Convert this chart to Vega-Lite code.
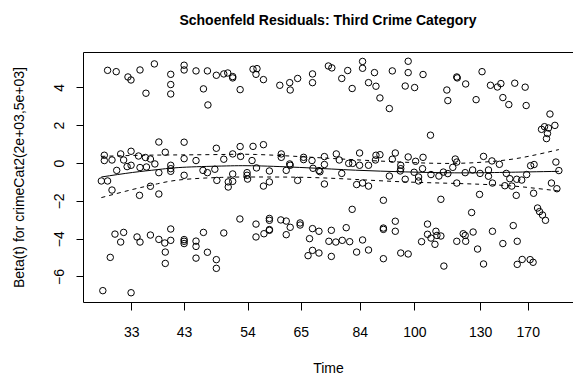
{
  "$schema": "https://vega.github.io/schema/vega-lite/v6.json",
  "width": 490,
  "height": 250,
  "autosize": {"type": "none"},
  "padding": {"left": 83, "top": 52, "right": 0, "bottom": 77},
  "background": "white",
  "config": {
    "view": {"stroke": "#000", "strokeWidth": 1},
    "font": "Liberation Sans",
    "axis": {"labelFont": "Liberation Sans", "titleFont": "Liberation Sans", "labelColor": "#000", "titleColor": "#000", "tickColor": "#000", "labelFontSize": 14, "titleFontSize": 14, "titleFontWeight": "normal", "grid": false, "domain": false}
  },
  "title": {"text": "Schoenfeld Residuals: Third Crime Category", "font": "Liberation Sans", "fontSize": 14, "fontWeight": "bold", "color": "#000", "anchor": "middle", "baseline": "alphabetic", "offset": 13},
  "datasets": {
    "resid": [
      {"u":4.96,"r":4.90},{"u":6.7,"r":4.83},{"u":9.07,"r":4.55},{"u":9.68,"r":4.39},{"u":11.5,"r":4.92},{"u":14.4,"r":5.24},{"u":12.7,"r":3.69},{"u":17.7,"r":4.69},{"u":17.7,"r":4.15},{"u":17.7,"r":3.65},{"u":20.4,"r":5.17},{"u":20.4,"r":4.92},{"u":22.8,"r":4.87},{"u":24.3,"r":3.92},{"u":25.1,"r":4.87},{"u":25.2,"r":3.07},{"u":26.9,"r":4.64},{"u":28.4,"r":4.71},{"u":29.2,"r":4.76},{"u":30.2,"r":4.57},{"u":30.2,"r":4.50},{"u":31.7,"r":3.88},{"u":34.3,"r":4.96},{"u":35.1,"r":4.99},{"u":34.9,"r":4.69},{"u":36.4,"r":4.41},{"u":39.7,"r":4.11},{"u":41.7,"r":4.25},{"u":41.8,"r":3.86},{"u":43.3,"r":4.47},{"u":46.3,"r":4.71},{"u":46.3,"r":4.25},
      {"u":49.5,"r":5.13},{"u":50.2,"r":5.03},{"u":52.2,"r":4.47},{"u":53.4,"r":4.89},{"u":54.3,"r":3.94},{"u":56.4,"r":5.37},{"u":56.4,"r":5.01},{"u":57.6,"r":4.25},{"u":58.8,"r":4.78},{"u":59.1,"r":4.06},{"u":59.9,"r":3.44},{"u":61.8,"r":2.88},{"u":62.4,"r":4.87},{"u":65.6,"r":5.38},{"u":65.6,"r":4.78},{"u":65.0,"r":4.07},{"u":66.9,"r":3.99},{"u":68.6,"r":4.68},{"u":70.1,"r":1.47},{"u":73.4,"r":3.86},{"u":73.6,"r":3.30},{"u":75.4,"r":4.55},{"u":75.5,"r":4.50},{"u":77.2,"r":4.18},{"u":79.3,"r":3.35},{"u":80.5,"r":4.83},{"u":82.2,"r":4.11},{"u":83.6,"r":4.02},{"u":84.3,"r":4.20},{"u":84.7,"r":3.46},{"u":85.9,"r":3.09},{"u":87.1,"r":4.22},{"u":89.2,"r":4.01},{"u":89.4,"r":3.04},{"u":94.2,"r":2.59},{"u":92.5,"r":1.78},{"u":93.1,"r":1.92},{"u":93.9,"r":1.85},{"u":95.2,"r":1.99},{"u":93.7,"r":1.56},{"u":93.5,"r":1.29},
      {"u":15.3,"r":1.11},{"u":20.4,"r":1.10},{"u":4.3,"r":0.41},{"u":4.3,"r":0.13},{"u":5.85,"r":0.16},{"u":7.6,"r":0.48},{"u":8.2,"r":0.16},{"u":9.7,"r":0.62},{"u":11.2,"r":0.37},{"u":12.6,"r":0.29},{"u":13.6,"r":0.21},{"u":14.5,"r":-0.05},{"u":16.6,"r":0.57},{"u":6.8,"r":-0.39},{"u":8.9,"r":-0.19},{"u":9.7,"r":-0.12},{"u":11.5,"r":-0.24},{"u":12.8,"r":-0.21},{"u":15.3,"r":-0.51},{"u":17.7,"r":-0.12},{"u":17.7,"r":-0.30},{"u":17.7,"r":-0.44},{"u":20.4,"r":0.23},{"u":20.4,"r":-0.65},{"u":22.8,"r":0.13},{"u":24.2,"r":-0.39},{"u":25.1,"r":-0.51},{"u":26.6,"r":-0.33},{"u":26.9,"r":0.78},{"u":28.4,"r":0.20},{"u":30.2,"r":0.48},{"u":31.7,"r":0.87},{"u":31.8,"r":0.35},{"u":30.2,"r":-0.58},{"u":33.1,"r":-0.51},{"u":33.1,"r":-0.65},{"u":34.3,"r":0.88},{"u":36.4,"r":0.97},{"u":34.1,"r":0.13},{"u":35.0,"r":-0.26},{"u":37.6,"r":-0.42},{"u":40.0,"r":0.48},{"u":40.0,"r":0.30},{"u":41.0,"r":-0.39},{"u":41.7,"r":-0.05},{"u":41.8,"r":-0.12},{"u":44.5,"r":0.30},{"u":44.5,"r":0.18},{"u":46.2,"r":0.13},{"u":47.6,"r":-0.40},{"u":46.4,"r":-0.28},
      {"u":3.7,"r":-0.95},{"u":4.96,"r":-0.95},{"u":5.85,"r":-1.43},{"u":11.4,"r":-1.71},{"u":13.6,"r":-1.23},{"u":15.3,"r":-1.64},{"u":27.0,"r":-0.92},{"u":29.3,"r":-1.0},{"u":29.3,"r":-1.27},{"u":30.2,"r":-0.97},{"u":33.2,"r":-0.85},{"u":36.4,"r":-1.22},{"u":37.6,"r":-1.0},{"u":43.3,"r":-0.92},
      {"u":48.7,"r":0.34},{"u":48.7,"r":-0.08},{"u":47.8,"r":-0.46},{"u":51.1,"r":0.48},{"u":51.7,"r":0.16},{"u":53.6,"r":-0.02},{"u":54.4,"r":-0.02},{"u":52.2,"r":-0.55},{"u":55.8,"r":0.53},{"u":55.8,"r":-0.12},{"u":57.6,"r":-0.12},{"u":59.0,"r":0.16},{"u":59.1,"r":0.41},{"u":59.9,"r":0.44},{"u":62.4,"r":0.20},{"u":63.0,"r":0.53},{"u":64.1,"r":-0.12},{"u":64.1,"r":-0.30},{"u":64.0,"r":-0.42},{"u":61.8,"r":-0.69},{"u":65.6,"r":0.32},{"u":67.1,"r":0.09},{"u":68.6,"r":0.30},{"u":66.8,"r":-0.49},{"u":68.5,"r":-0.30},{"u":70.2,"r":-0.61},{"u":71.8,"r":-0.69},{"u":72.7,"r":-0.48},{"u":73.6,"r":-0.56},{"u":74.6,"r":-0.23},{"u":75.1,"r":0.21},{"u":75.4,"r":0.05},{"u":77.1,"r":-0.51},{"u":78.6,"r":-0.37},{"u":80.1,"r":-0.55},{"u":80.8,"r":0.35},{"u":81.8,"r":-0.37},{"u":82.5,"r":0.11},{"u":84.0,"r":-0.07},{"u":85.4,"r":-0.55},{"u":90.3,"r":-0.14},{"u":91.0,"r":-0.08},{"u":89.5,"r":-0.61},{"u":95.4,"r":0.05},{"u":96.0,"r":-0.40},{"u":87.5,"r":-0.86},{"u":86.1,"r":-0.83},
      {"u":48.7,"r":-1.11},{"u":55.2,"r":-1.14},{"u":56.4,"r":-1.06},{"u":57.6,"r":-1.22},{"u":65.0,"r":-0.86},{"u":67.7,"r":-0.74},{"u":67.7,"r":-0.95},{"u":75.4,"r":-1.06},{"u":80.0,"r":-1.66},{"u":81.8,"r":-0.70},{"u":82.6,"r":-1.06},{"u":85.1,"r":-1.20},{"u":86.5,"r":-1.22},{"u":88.5,"r":-0.90},{"u":87.4,"r":-1.71},{"u":90.9,"r":-1.60},{"u":94.5,"r":-1.06},{"u":95.6,"r":-1.36},{"u":60.6,"r":-1.97},{"u":72.2,"r":-1.92},{"u":54.3,"r":-2.45},{"u":78.4,"r":-2.62},{"u":91.7,"r":-2.38},{"u":92.1,"r":-2.57},{"u":92.7,"r":-2.75},{"u":93.3,"r":-3.03},
      {"u":31.65,"r":-2.96},{"u":34.9,"r":-3.23},{"u":37.6,"r":-2.93},{"u":37.6,"r":-3.03},{"u":37.6,"r":-3.52},{"u":37.6,"r":-3.56},{"u":39.9,"r":-3.01},{"u":41.0,"r":-3.07},{"u":41.8,"r":-3.40},{"u":43.8,"r":-3.17},{"u":43.8,"r":-3.28},{"u":46.3,"r":-3.47},{"u":47.6,"r":-3.61},{"u":34.9,"r":-3.91},{"u":36.5,"r":-3.74},{"u":41.0,"r":-3.79},{"u":45.7,"r":-4.0},{"u":46.3,"r":-4.62},{"u":45.4,"r":-4.9},{"u":47.6,"r":-4.76},{"u":6.45,"r":-3.76},{"u":8.2,"r":-3.67},{"u":7.6,"r":-4.18},{"u":5.5,"r":-4.99},{"u":10.9,"r":-3.91},{"u":11.5,"r":-4.18},{"u":13.6,"r":-3.81},{"u":15.3,"r":-4.04},{"u":16.5,"r":-4.23},{"u":17.7,"r":-3.49},{"u":17.7,"r":-4.09},{"u":16.6,"r":-4.71},{"u":16.6,"r":-5.31},{"u":20.4,"r":-4.05},{"u":20.4,"r":-4.14},{"u":20.4,"r":-4.26},{"u":22.8,"r":-4.13},{"u":22.8,"r":-4.41},{"u":22.8,"r":-5.03},{"u":24.3,"r":-3.67},{"u":25.1,"r":-4.72},{"u":26.9,"r":-5.11},{"u":26.9,"r":-5.57},{"u":28.4,"r":-3.70},{"u":4.0,"r":-6.75},{"u":9.7,"r":-6.86},
      {"u":50.1,"r":-3.56},{"u":49.6,"r":-4.14},{"u":51.0,"r":-4.18},{"u":52.3,"r":-4.09},{"u":53.1,"r":-3.42},{"u":53.8,"r":-4.16},{"u":50.1,"r":-4.94},{"u":55.2,"r":-4.71},{"u":56.4,"r":-4.07},{"u":57.6,"r":-4.60},{"u":60.6,"r":-3.44},{"u":60.6,"r":-3.51},{"u":60.6,"r":-5.06},{"u":63.0,"r":-3.08},{"u":63.0,"r":-3.61},{"u":64.1,"r":-4.76},{"u":65.6,"r":-4.81},{"u":68.3,"r":-4.16},{"u":69.5,"r":-3.23},{"u":69.5,"r":-3.77},{"u":70.2,"r":-3.97},{"u":71.2,"r":-3.61},{"u":71.4,"r":-3.83},{"u":72.2,"r":-3.86},{"u":71.0,"r":-4.30},{"u":72.8,"r":-5.45},{"u":75.4,"r":-4.14},{"u":76.7,"r":-3.74},{"u":77.1,"r":-3.83},{"u":77.2,"r":-4.14},{"u":78.7,"r":-3.65},{"u":79.6,"r":-4.55},{"u":80.8,"r":-5.34},{"u":82.6,"r":-3.61},{"u":84.7,"r":-4.26},{"u":86.8,"r":-3.31},{"u":87.6,"r":-4.14},{"u":87.6,"r":-5.36},{"u":88.6,"r":-5.10},{"u":90.2,"r":-5.11},{"u":90.8,"r":-5.25}
    ],
    "smooth": [
      {"u":3.7,"fit":-0.74,"lo":-1.83,"hi":0.35},
      {"u":10,"fit":-0.5,"lo":-1.4,"hi":0.4},
      {"u":15,"fit":-0.35,"lo":-1.1,"hi":0.42},
      {"u":20,"fit":-0.23,"lo":-0.88,"hi":0.43},
      {"u":28,"fit":-0.16,"lo":-0.76,"hi":0.45},
      {"u":35,"fit":-0.15,"lo":-0.74,"hi":0.45},
      {"u":45,"fit":-0.25,"lo":-0.76,"hi":0.32},
      {"u":55,"fit":-0.38,"lo":-0.87,"hi":0.17},
      {"u":65,"fit":-0.47,"lo":-1.0,"hi":0.04},
      {"u":75,"fit":-0.52,"lo":-1.08,"hi":-0.02},
      {"u":84,"fit":-0.5,"lo":-1.17,"hi":0.12},
      {"u":90,"fit":-0.47,"lo":-1.3,"hi":0.36},
      {"u":96,"fit":-0.44,"lo":-1.48,"hi":0.71}
    ]
  },
  "layer": [
    {
      "data": {"name": "resid"},
      "mark": {"type": "point", "shape": "circle", "filled": false, "size": 42, "stroke": "#000", "strokeWidth": 1, "opacity": 1},
      "encoding": {
        "x": {"field": "u", "type": "quantitative", "scale": {"domain": [0, 98.85], "nice": false, "zero": false},
          "axis": {"title": "Time", "values": [9.74, 20.36, 33.19, 43.95, 55.85, 66.85, 80.1, 89.72],
            "labelExpr": "datum.value < 15 ? '33' : datum.value < 25 ? '43' : datum.value < 38 ? '54' : datum.value < 50 ? '65' : datum.value < 60 ? '84' : datum.value < 75 ? '100' : datum.value < 85 ? '130' : '170'",
            "tickSize": 8, "labelPadding": 15, "titlePadding": 22}},
        "y": {"field": "r", "type": "quantitative", "scale": {"domain": [-7.35, 5.87], "nice": false, "zero": false},
          "axis": {"title": "Beta(t) for crimeCat2(2e+03,5e+03]", "values": [-6, -4, -2, 0, 2, 4], "tickSize": 7,
            "labelAngle": -90, "labelAlign": "center", "labelBaseline": "alphabetic", "labelPadding": 12.5,
            "titleX": -59.5, "titleBaseline": "alphabetic"}}
      }
    },
    {
      "data": {"name": "smooth"},
      "mark": {"type": "line", "interpolate": "natural", "stroke": "#000", "strokeWidth": 1},
      "encoding": {"x": {"field": "u", "type": "quantitative"}, "y": {"field": "fit", "type": "quantitative"}}
    },
    {
      "data": {"name": "smooth"},
      "mark": {"type": "line", "interpolate": "natural", "stroke": "#000", "strokeWidth": 1, "strokeDash": [4, 4]},
      "encoding": {"x": {"field": "u", "type": "quantitative"}, "y": {"field": "lo", "type": "quantitative"}}
    },
    {
      "data": {"name": "smooth"},
      "mark": {"type": "line", "interpolate": "natural", "stroke": "#000", "strokeWidth": 1, "strokeDash": [4, 4]},
      "encoding": {"x": {"field": "u", "type": "quantitative"}, "y": {"field": "hi", "type": "quantitative"}}
    }
  ]
}
